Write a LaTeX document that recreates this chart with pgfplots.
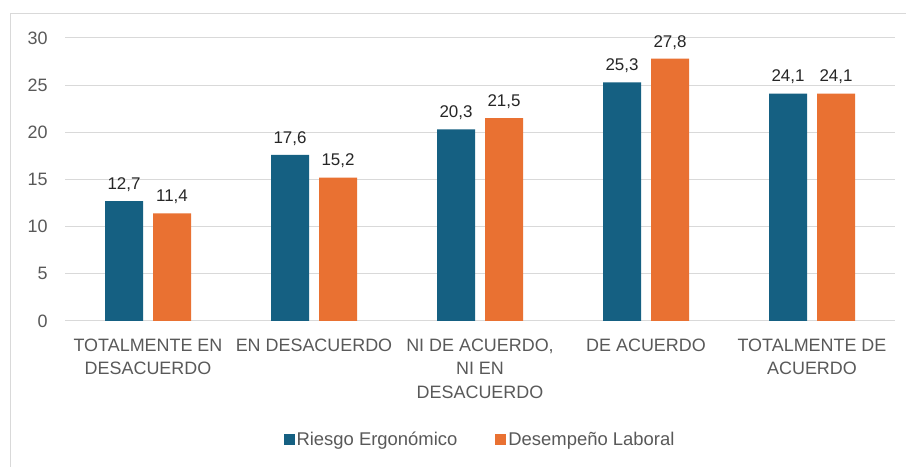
\documentclass[border=0pt]{standalone}
\usepackage{pgfplots}
\pgfplotsset{compat=1.18}
\usepackage{fontspec}
\setmainfont{Liberation Sans}
\definecolor{cblue}{HTML}{156082}
\definecolor{corange}{HTML}{E97132}
\definecolor{tgray}{HTML}{595959}
\definecolor{ggray}{HTML}{D9D9D9}
\begin{document}
\begin{tikzpicture}[x=1bp,y=1bp]
\path[use as bounding box] (0,0) rectangle (906,467);
\fill[white] (0,0) rectangle (906,467);
\draw[ggray, line width=1bp] (10,0) -- (10,453) -- (906,453);
\begin{axis}[
  at={(65bp,146bp)}, anchor=south west,
  scale only axis, width=830bp, height=283bp,
  ybar, bar width=38bp,
  xmin=-0.5, xmax=4.5, ymin=0, ymax=30,
  ytick={0,5,...,30},
  xtick={0,1,2,3,4},
  xticklabels={{TOTALMENTE EN\\DESACUERDO},{EN DESACUERDO},{NI DE ACUERDO,\\NI EN\\DESACUERDO},{DE ACUERDO},{TOTALMENTE DE\\ACUERDO}},
  x tick label style={align=center, text=tgray, font=\fontsize{18}{24}\selectfont, yshift=-14bp},
  y tick label style={text=tgray, font=\fontsize{18}{20}\selectfont, xshift=-14bp},
  /pgf/number format/assume math mode=true,
  axis line style={draw=none},
  major tick length=0pt,
  ymajorgrids, grid style={ggray, line width=1bp},
  axis x line*=bottom, axis y line*=left,
  nodes near coords,
  nodes near coords style={font=\fontsize{17}{20}\selectfont, text=black!85, yshift=6bp,
    /pgf/number format/.cd, fixed, fixed zerofill, precision=1, use comma},
  legend columns=2,
  legend style={draw=none, fill=none, at={(axis description cs:0.5,-0.42)}, anchor=center,
    font=\fontsize{18.5}{20}\selectfont, text=tgray,
    /tikz/every even column/.append style={column sep=36bp}},
  legend image code/.code={\fill[#1] (0bp,-5.5bp) rectangle (11bp,5.5bp);},
]
\draw[ggray, line width=1bp] (axis cs:-0.5,0) -- (axis cs:4.5,0);
\addplot[fill=cblue, draw=none, bar shift=-24bp] coordinates {(0,12.7) (1,17.6) (2,20.3) (3,25.3) (4,24.1)};
\addplot[fill=corange, draw=none, bar shift=24bp] coordinates {(0,11.4) (1,15.2) (2,21.5) (3,27.8) (4,24.1)};
\legend{Riesgo Ergonómico, Desempeño Laboral}
\end{axis}
\end{tikzpicture}
\end{document}
